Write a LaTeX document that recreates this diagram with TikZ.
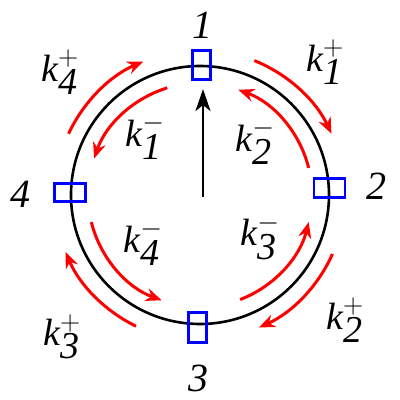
\RequirePackage{fix-cm}
\documentclass[tikz,border=0pt]{standalone}
\usepackage{fontspec}
\setmainfont{Liberation Serif}
\DeclareMathSizes{38}{38}{28}{20}
\usetikzlibrary{arrows.meta,positioning}

\begin{document}
\begin{tikzpicture}[x=1pt, y=1pt, >={Stealth[length=16pt, width=13pt]},
    site/.style={draw=blue, line width=2.6pt, inner sep=0pt},
    hsite/.style={site, minimum width=31pt, minimum height=18.5pt},
    vsite/.style={site, minimum width=18.5pt, minimum height=29.5pt},
    num/.style={inner sep=0pt, font=\fontsize{40}{44}\selectfont\itshape},
    rate/.style={inner sep=0pt, font=\fontsize{38}{42}\selectfont},
    hop/.style={->, red, line width=3pt}]

  \useasboundingbox (0,0) rectangle (400,400);

  % Ring
  \coordinate (c) at (200,205);
  \draw[line width=2.6pt] (c) circle[radius=129pt];

  % Sites on the ring
  \node[vsite] (site1) at (201.5,335) {};
  \node[hsite] (site2) at (329.5,212) {};
  \node[vsite] (site3) at (197.5,72.5) {};
  \node[hsite] (site4) at (70,207.5) {};

  \node[num] (lab1) at (202,375) {1};
  \node[num] (lab2) at (376,214) {2};
  \node[num] (lab3) at (198,22) {3};
  \node[num] (lab4) at (20,206) {4};

  % Central arrow
  \coordinate (a0) at (203,203);
  \draw[-{Stealth[length=22pt, width=15pt, inset=6pt]}, line width=2.4pt,
        shorten >=8pt] (a0) -- (a0 |- site1.south);

  % Outer hops
  \draw[hop] ([shift={(68:145pt)}]c) arc[start angle=68, end angle=25, radius=145pt];
  \draw[hop] ([shift={(155:145pt)}]c) arc[start angle=155, end angle=113, radius=145pt];
  \draw[hop] ([shift={(244:146pt)}]c) arc[start angle=244, end angle=203, radius=146pt];
  \draw[hop] ([shift={(336:145pt)}]c) arc[start angle=336, end angle=294, radius=145pt];

  % Inner hops
  \draw[hop] ([shift={(107:112pt)}]c) arc[start angle=107, end angle=161, radius=112pt];
  \draw[hop] ([shift={(14:112pt)}]c) arc[start angle=14, end angle=70, radius=112pt];
  \draw[hop] ([shift={(194:112pt)}]c) arc[start angle=194, end angle=250, radius=112pt];
  \draw[hop] ([shift={(291:112pt)}]c) arc[start angle=291, end angle=346, radius=112pt];

  % Rates
  \node[rate] (kp1) at (325,338) {$\textit{k}^{+}_{\textit{1}}$};
  \node[rate] (kp2) at (345,80) {$\textit{k}^{+}_{\textit{2}}$};
  \node[rate] (kp3) at (62,63) {$\textit{k}^{+}_{\textit{3}}$};
  \node[rate] (kp4) at (60,328) {$\textit{k}^{+}_{\textit{4}}$};
  \node[rate] (km1) at (145,263) {$\textit{k}^{-}_{\textit{1}}$};
  \node[rate] (km2) at (255,258) {$\textit{k}^{-}_{\textit{2}}$};
  \node[rate] (km3) at (260,163) {$\textit{k}^{-}_{\textit{3}}$};
  \node[rate] (km4) at (143,157) {$\textit{k}^{-}_{\textit{4}}$};
\end{tikzpicture}
\end{document}
